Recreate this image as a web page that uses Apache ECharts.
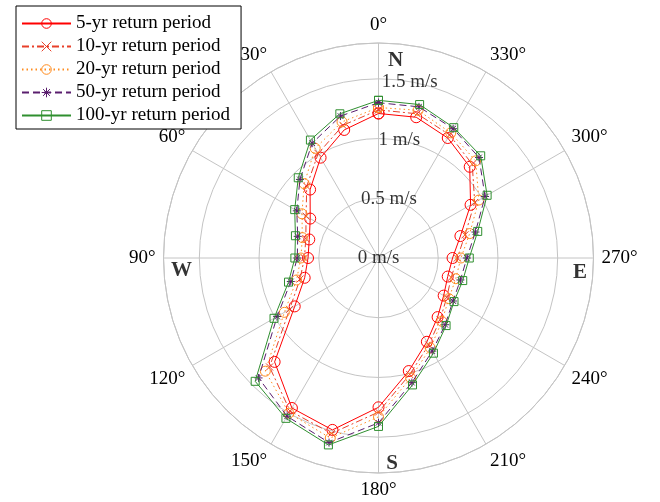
<!DOCTYPE html>
<html>
<head>
<meta charset="utf-8">
<script src="https://cdn.jsdelivr.net/npm/echarts@6/dist/echarts.min.js"></script>
<style>
  html, body { margin: 0; padding: 0; background: #fff; }
  #chart { width: 660px; height: 502px; }
</style>
</head>
<body>
<div id="chart"></div>
<script>
// Wind direction (degrees, counter-clockwise from north) and speed (m/s)
const angles = [0, 15, 30, 45, 60, 75, 90, 105, 120, 135, 150, 165,
                180, 195, 210, 225, 240, 255, 270, 285, 300, 315, 330, 345];

const rp5   = [1.21, 1.11, 0.97, 0.81, 0.66, 0.60, 0.59, 0.64, 0.81, 1.23, 1.45, 1.49,
               1.25, 0.98, 0.81, 0.70, 0.63, 0.60, 0.62, 0.71, 0.89, 1.08, 1.16, 1.22];
const rp10  = [1.24, 1.15, 1.01, 0.85, 0.70, 0.63, 0.62, 0.68, 0.86, 1.29, 1.48, 1.52,
               1.29, 1.01, 0.84, 0.73, 0.66, 0.63, 0.66, 0.75, 0.93, 1.11, 1.19, 1.25];
const rp20  = [1.26, 1.18, 1.06, 0.88, 0.74, 0.66, 0.65, 0.71, 0.91, 1.34, 1.50, 1.56,
               1.33, 1.04, 0.87, 0.75, 0.68, 0.67, 0.69, 0.79, 0.97, 1.15, 1.21, 1.28];
const rp50  = [1.30, 1.23, 1.11, 0.93, 0.79, 0.70, 0.68, 0.76, 0.98, 1.42, 1.53, 1.60,
               1.38, 1.08, 0.90, 0.79, 0.72, 0.71, 0.74, 0.84, 1.03, 1.19, 1.25, 1.31];
const rp100 = [1.32, 1.25, 1.14, 0.95, 0.81, 0.72, 0.70, 0.78, 1.01, 1.46, 1.55, 1.62,
               1.41, 1.10, 0.92, 0.80, 0.73, 0.73, 0.76, 0.86, 1.05, 1.21, 1.26, 1.33];

const seriesNames = ['5-yr return period', '10-yr return period', '20-yr return period',
                     '50-yr return period', '100-yr return period'];
const radialTicks = [0, 0.5, 1, 1.5];
const compassLetters = ['N', 'W', 'S', 'E'];
const compassBearings = [0, 90, 180, 270];

const SERIF = '"Liberation Serif", "Times New Roman", serif';
const GRID = '#c4c4c4';

// Marker shapes
const STAR = 'path://M10,0L10,20M0,10L20,10M2.93,2.93L17.07,17.07M2.93,17.07L17.07,2.93';
const CROSS = 'path://M0,0L20,20M0,20L20,0';

const styles = [
  { color: '#ff0000', type: 'solid',          symbol: 'circle', size: 11 },
  { color: '#e8402a', type: [7, 3, 2, 3],     symbol: CROSS,    size: 7 },
  { color: '#ff8c1e', type: [1.5, 3],         symbol: 'circle', size: 10 },
  { color: '#5a1e6e', type: [7, 4],           symbol: STAR,     size: 8 },
  { color: '#2f8f2f', type: 'solid',          symbol: 'rect',   size: 8 }
];
const values = [rp5, rp10, rp20, rp50, rp100];

// Close each loop by repeating the north value at 360 degrees
function loop(vals) {
  const pts = angles.map((a, i) => [vals[i], a]);
  pts.push([vals[0], 360]);
  return pts;
}

const lineSeries = values.map((vals, k) => ({
  name: seriesNames[k],
  type: 'line',
  coordinateSystem: 'polar',
  data: loop(vals),
  symbol: styles[k].symbol,
  symbolSize: styles[k].size,
  symbolKeepAspect: true,
  showSymbol: true,
  lineStyle: { color: styles[k].color, width: 1, type: styles[k].type },
  itemStyle: { color: 'rgba(0,0,0,0)', borderColor: styles[k].color, borderWidth: 1 },
  emphasis: { disabled: true },
  z: 3 + k
}));

// Speed labels along a ray just right of north
const radialLabelSeries = {
  type: 'scatter',
  coordinateSystem: 'polar',
  symbolSize: 0,
  silent: true,
  data: radialTicks.map(v => [v, 350]),
  label: {
    show: true, position: 'inside',
    formatter: p => p.value[0] + ' m/s',
    fontFamily: SERIF, fontSize: 19, color: '#000'
  },
  z: 2
};

// Compass letters just inside the outer ring
const compassOffsets = { N: [17, 2.5], W: [3, 12.5], S: [13.5, 5.5], E: [1.5, 14.5] };
const compassSeries = {
  type: 'scatter',
  coordinateSystem: 'polar',
  symbolSize: 0,
  silent: true,
  data: compassLetters.map((c, i) => ({
    value: [200 / 215 * 1.8, compassBearings[i]],
    label: { offset: compassOffsets[c] }
  })),
  label: {
    show: true, position: 'inside',
    formatter: p => compassLetters[p.dataIndex],
    fontFamily: SERIF, fontSize: 21, fontWeight: 'bold', color: '#000'
  },
  z: 2
};

const chart = echarts.init(document.getElementById('chart'), null, { renderer: 'canvas' });
chart.setOption({
  animation: false,
  backgroundColor: '#fff',
  polar: { center: [378.5, 258], radius: 215 },
  angleAxis: {
    type: 'value', min: 0, max: 360, interval: 30,
    startAngle: 90, clockwise: false,
    axisLine: { show: true, lineStyle: { color: GRID, width: 1 } },
    axisTick: { show: false },
    splitLine: { show: true, lineStyle: { color: GRID, width: 1 } },
    axisLabel: {
      formatter: v => (v === 360 ? '' : v + '°'),
      fontFamily: SERIF, fontSize: 19, color: '#000', margin: 8
    }
  },
  radiusAxis: {
    min: 0, max: 1.8, interval: 0.5,
    axisLine: { show: false },
    axisTick: { show: false },
    axisLabel: { show: false },
    splitLine: { show: true, lineStyle: { color: GRID, width: 1 } }
  },
  legend: {
    orient: 'vertical', left: 16, top: 6,
    padding: [8, 11, 4, 5], itemGap: 4,
    itemWidth: 49, itemHeight: 12,
    borderColor: '#000', borderWidth: 1, borderRadius: 0,
    backgroundColor: '#fff',
    textStyle: { fontFamily: SERIF, fontSize: 19, color: '#000' },
    itemStyle: { borderWidth: 1 },
    data: seriesNames,
    z: 10
  },
  series: [radialLabelSeries, compassSeries].concat(lineSeries)
});
</script>
</body>
</html>
